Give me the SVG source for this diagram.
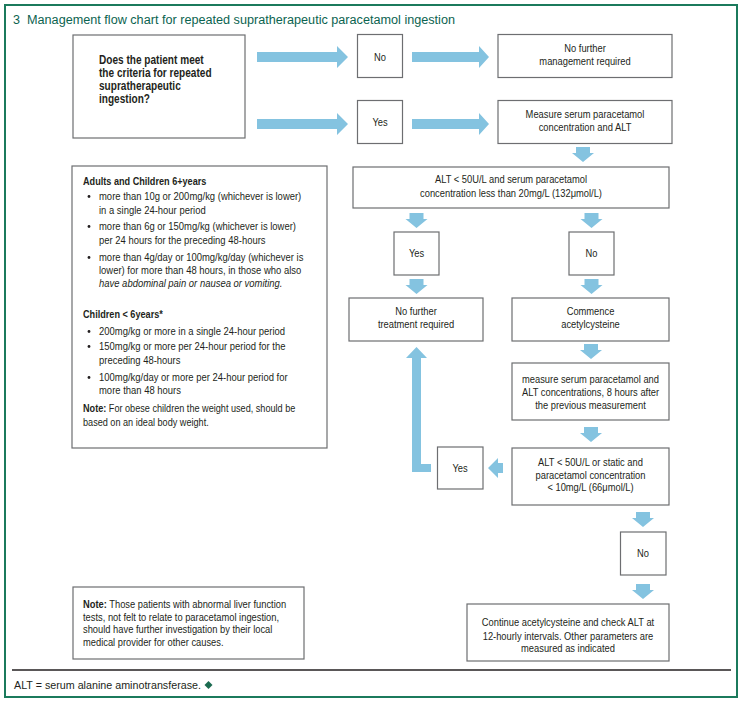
<svg xmlns="http://www.w3.org/2000/svg" width="743" height="703" viewBox="0 0 743 703">
<style>
text{font-family:"Liberation Sans",Arial,sans-serif;fill:#231f20;font-size:11px;}
.c{text-anchor:middle;}
.q{font-size:12px;font-weight:bold;}
.h{font-weight:bold;}
.box{fill:#fff;stroke:#6d6e71;stroke-width:1.2;}
.arr{fill:#84c3e0;}
.title{font-size:12.5px;fill:#0b6350;}
</style>
<defs>
<path id="down" d="M-7,0H7V6H11L0,15L-11,6H-7Z"/>
</defs>
<rect width="743" height="703" fill="#fff"/>
<rect x="5" y="5" width="732" height="692" fill="none" stroke="#1b7a5c" stroke-width="2"/>
<g id="title">
<text class="title" x="13" y="23.5">3</text>
<text class="title" x="27" y="23.5" textLength="428" lengthAdjust="spacingAndGlyphs">Management flow chart for repeated supratherapeutic paracetamol ingestion</text>
</g>

<g id="connectors" class="arr">
<polygon points="257,52 337,52 337,46 348,57 337,68 337,62 257,62"/>
<polygon points="412,52 479,52 479,46 489,57 479,68 479,62 412,62"/>
<polygon points="257,119 337,119 337,113 348,124 337,135 337,129 257,129"/>
<polygon points="412,119 479,119 479,113 489,124 479,135 479,129 412,129"/>
<use href="#down" transform="translate(583,147)"/>
<use href="#down" transform="translate(416.5,213)"/>
<use href="#down" transform="translate(591.5,213)"/>
<use href="#down" transform="translate(416.5,279)"/>
<use href="#down" transform="translate(591.5,279)"/>
<use href="#down" transform="translate(591,344)"/>
<use href="#down" transform="translate(591,427)"/>
<use href="#down" transform="translate(643,512)"/>
<use href="#down" transform="translate(643,584)"/>
<polygon points="431,464 421,464 421,358 427,358 416.5,347 406,358 412,358 412,472 431,472"/>
<polygon points="503,463 498,463 498,458 488,468 498,478 498,473 503,473"/>
</g>

<g id="n-question">
<rect class="box" x="73" y="35" width="172" height="103"/>
<g transform="translate(99,0) scale(0.84,1)">
<text class="q"><tspan x="0" y="64">Does the patient meet</tspan><tspan x="0" y="77">the criteria for repeated</tspan><tspan x="0" y="90">supratherapeutic</tspan><tspan x="0" y="103">ingestion?</tspan></text>
</g>
</g>

<g id="n-no1">
<rect class="box" x="357.5" y="34.5" width="45" height="43"/>
<g transform="translate(380,0) scale(0.85,1)"><text class="c" x="0" y="61">No</text></g>
</g>

<g id="n-nofurther-mgmt">
<rect class="box" x="498" y="34.5" width="174" height="43"/>
<g transform="translate(585,0) scale(0.85,1)"><text class="c"><tspan x="0" y="52">No further</tspan><tspan x="0" y="65">management required</tspan></text></g>
</g>

<g id="n-yes1">
<rect class="box" x="357.5" y="100.5" width="45" height="43"/>
<g transform="translate(380,0) scale(0.85,1)"><text class="c" x="0" y="126">Yes</text></g>
</g>

<g id="n-measure">
<rect class="box" x="498" y="100.5" width="174" height="43"/>
<g transform="translate(585,0) scale(0.85,1)"><text class="c"><tspan x="0" y="118">Measure serum paracetamol</tspan><tspan x="0" y="131">concentration and ALT</tspan></text></g>
</g>

<g id="n-criteria">
<rect class="box" x="72" y="166" width="255" height="282"/>
<g fill="#231f20">
<circle cx="89" cy="196.5" r="1.4"/><circle cx="89" cy="226.5" r="1.4"/><circle cx="89" cy="257.5" r="1.4"/>
<circle cx="89" cy="331.5" r="1.4"/><circle cx="89" cy="346.5" r="1.4"/><circle cx="89" cy="377.5" r="1.4"/>
</g>
<g transform="translate(83,0) scale(0.83,1)">
<text class="h" x="0" y="185">Adults and Children 6+years</text>
<text class="h" x="0" y="318">Children &lt; 6years*</text>
<text x="0" y="412"><tspan font-weight="bold">Note:</tspan> For obese children the weight used, should be</text>
<text x="0" y="426">based on an ideal body weight.</text>
</g>
<g transform="translate(99,0) scale(0.86,1)">
<text><tspan x="0" y="200">more than 10g or 200mg/kg (whichever is lower)</tspan><tspan x="0" y="214">in a single 24-hour period</tspan><tspan x="0" y="230">more than 6g or 150mg/kg (whichever is lower)</tspan><tspan x="0" y="244">per 24 hours for the preceding 48-hours</tspan><tspan x="0" y="261">more than 4g/day or 100mg/kg/day (whichever is</tspan><tspan x="0" y="274">lower) for more than 48 hours, in those who also</tspan><tspan x="0" y="287" font-style="italic">have abdominal pain or nausea or vomiting.</tspan></text>
<text><tspan x="0" y="335">200mg/kg or more in a single 24-hour period</tspan><tspan x="0" y="350">150mg/kg or more per 24-hour period for the</tspan><tspan x="0" y="364">preceding 48-hours</tspan><tspan x="0" y="381">100mg/kg/day or more per 24-hour period for</tspan><tspan x="0" y="394">more than 48 hours</tspan></text>
</g>
</g>

<g id="n-alt-check">
<rect class="box" x="353" y="167" width="316" height="41"/>
<g transform="translate(511,0) scale(0.85,1)"><text class="c"><tspan x="0" y="183">ALT &lt; 50U/L and serum paracetamol</tspan><tspan x="0" y="197">concentration less than 20mg/L (132μmol/L)</tspan></text></g>
</g>

<g id="n-yes2">
<rect class="box" x="394" y="232" width="45" height="43"/>
<g transform="translate(416.5,0) scale(0.85,1)"><text class="c" x="0" y="257">Yes</text></g>
</g>

<g id="n-no2">
<rect class="box" x="569" y="232" width="45" height="43"/>
<g transform="translate(591.5,0) scale(0.85,1)"><text class="c" x="0" y="257">No</text></g>
</g>

<g id="n-notreatment">
<rect class="box" x="349" y="298" width="134" height="43"/>
<g transform="translate(416,0) scale(0.85,1)"><text class="c"><tspan x="0" y="315">No further</tspan><tspan x="0" y="328">treatment required</tspan></text></g>
</g>

<g id="n-commence">
<rect class="box" x="512" y="298" width="157" height="43"/>
<g transform="translate(590.5,0) scale(0.85,1)"><text class="c"><tspan x="0" y="315">Commence</tspan><tspan x="0" y="328">acetylcysteine</tspan></text></g>
</g>

<g id="n-measure2">
<rect class="box" x="512" y="363" width="157" height="57"/>
<g transform="translate(590.5,0) scale(0.85,1)"><text class="c"><tspan x="0" y="383">measure serum paracetamol and</tspan><tspan x="0" y="396">ALT concentrations, 8 hours after</tspan><tspan x="0" y="409">the previous measurement</tspan></text></g>
</g>

<g id="n-alt50">
<rect class="box" x="512" y="448" width="157" height="57"/>
<g transform="translate(590.5,0) scale(0.85,1)"><text class="c"><tspan x="0" y="466">ALT &lt; 50U/L or static and</tspan><tspan x="0" y="479">paracetamol concentration</tspan><tspan x="0" y="491">&lt; 10mg/L (66μmol/L)</tspan></text></g>
</g>

<g id="n-yes3">
<rect class="box" x="437.5" y="447" width="45.5" height="42"/>
<g transform="translate(460,0) scale(0.85,1)"><text class="c" x="0" y="472">Yes</text></g>
</g>

<g id="n-no3">
<rect class="box" x="620.5" y="532" width="45.5" height="43"/>
<g transform="translate(643,0) scale(0.85,1)"><text class="c" x="0" y="557">No</text></g>
</g>

<g id="n-continue">
<rect class="box" x="467" y="604" width="202" height="57"/>
<g transform="translate(568,0) scale(0.85,1)"><text class="c"><tspan x="0" y="626">Continue acetylcysteine and check ALT at</tspan><tspan x="0" y="640">12-hourly intervals. Other parameters are</tspan><tspan x="0" y="652">measured as indicated</tspan></text></g>
</g>

<g id="n-note">
<rect class="box" x="73" y="587" width="231" height="72"/>
<g transform="translate(83,0) scale(0.85,1)"><text><tspan x="0" y="608"><tspan font-weight="bold">Note:</tspan> Those patients with abnormal liver function</tspan><tspan x="0" y="621">tests, not felt to relate to paracetamol ingestion,</tspan><tspan x="0" y="633">should have further investigation by their local</tspan><tspan x="0" y="646">medical provider for other causes.</tspan></text></g>
</g>

<line x1="12" y1="670" x2="731" y2="670" stroke="#231f20" stroke-width="1.5"/>
<g id="footer">
<text x="14" y="689" font-size="10.5" textLength="187" lengthAdjust="spacingAndGlyphs">ALT = serum alanine aminotransferase.</text>
<polygon points="208.5,681 212.5,685 208.5,689 204.5,685" fill="#1b6b50"/>
</g>
</svg>
